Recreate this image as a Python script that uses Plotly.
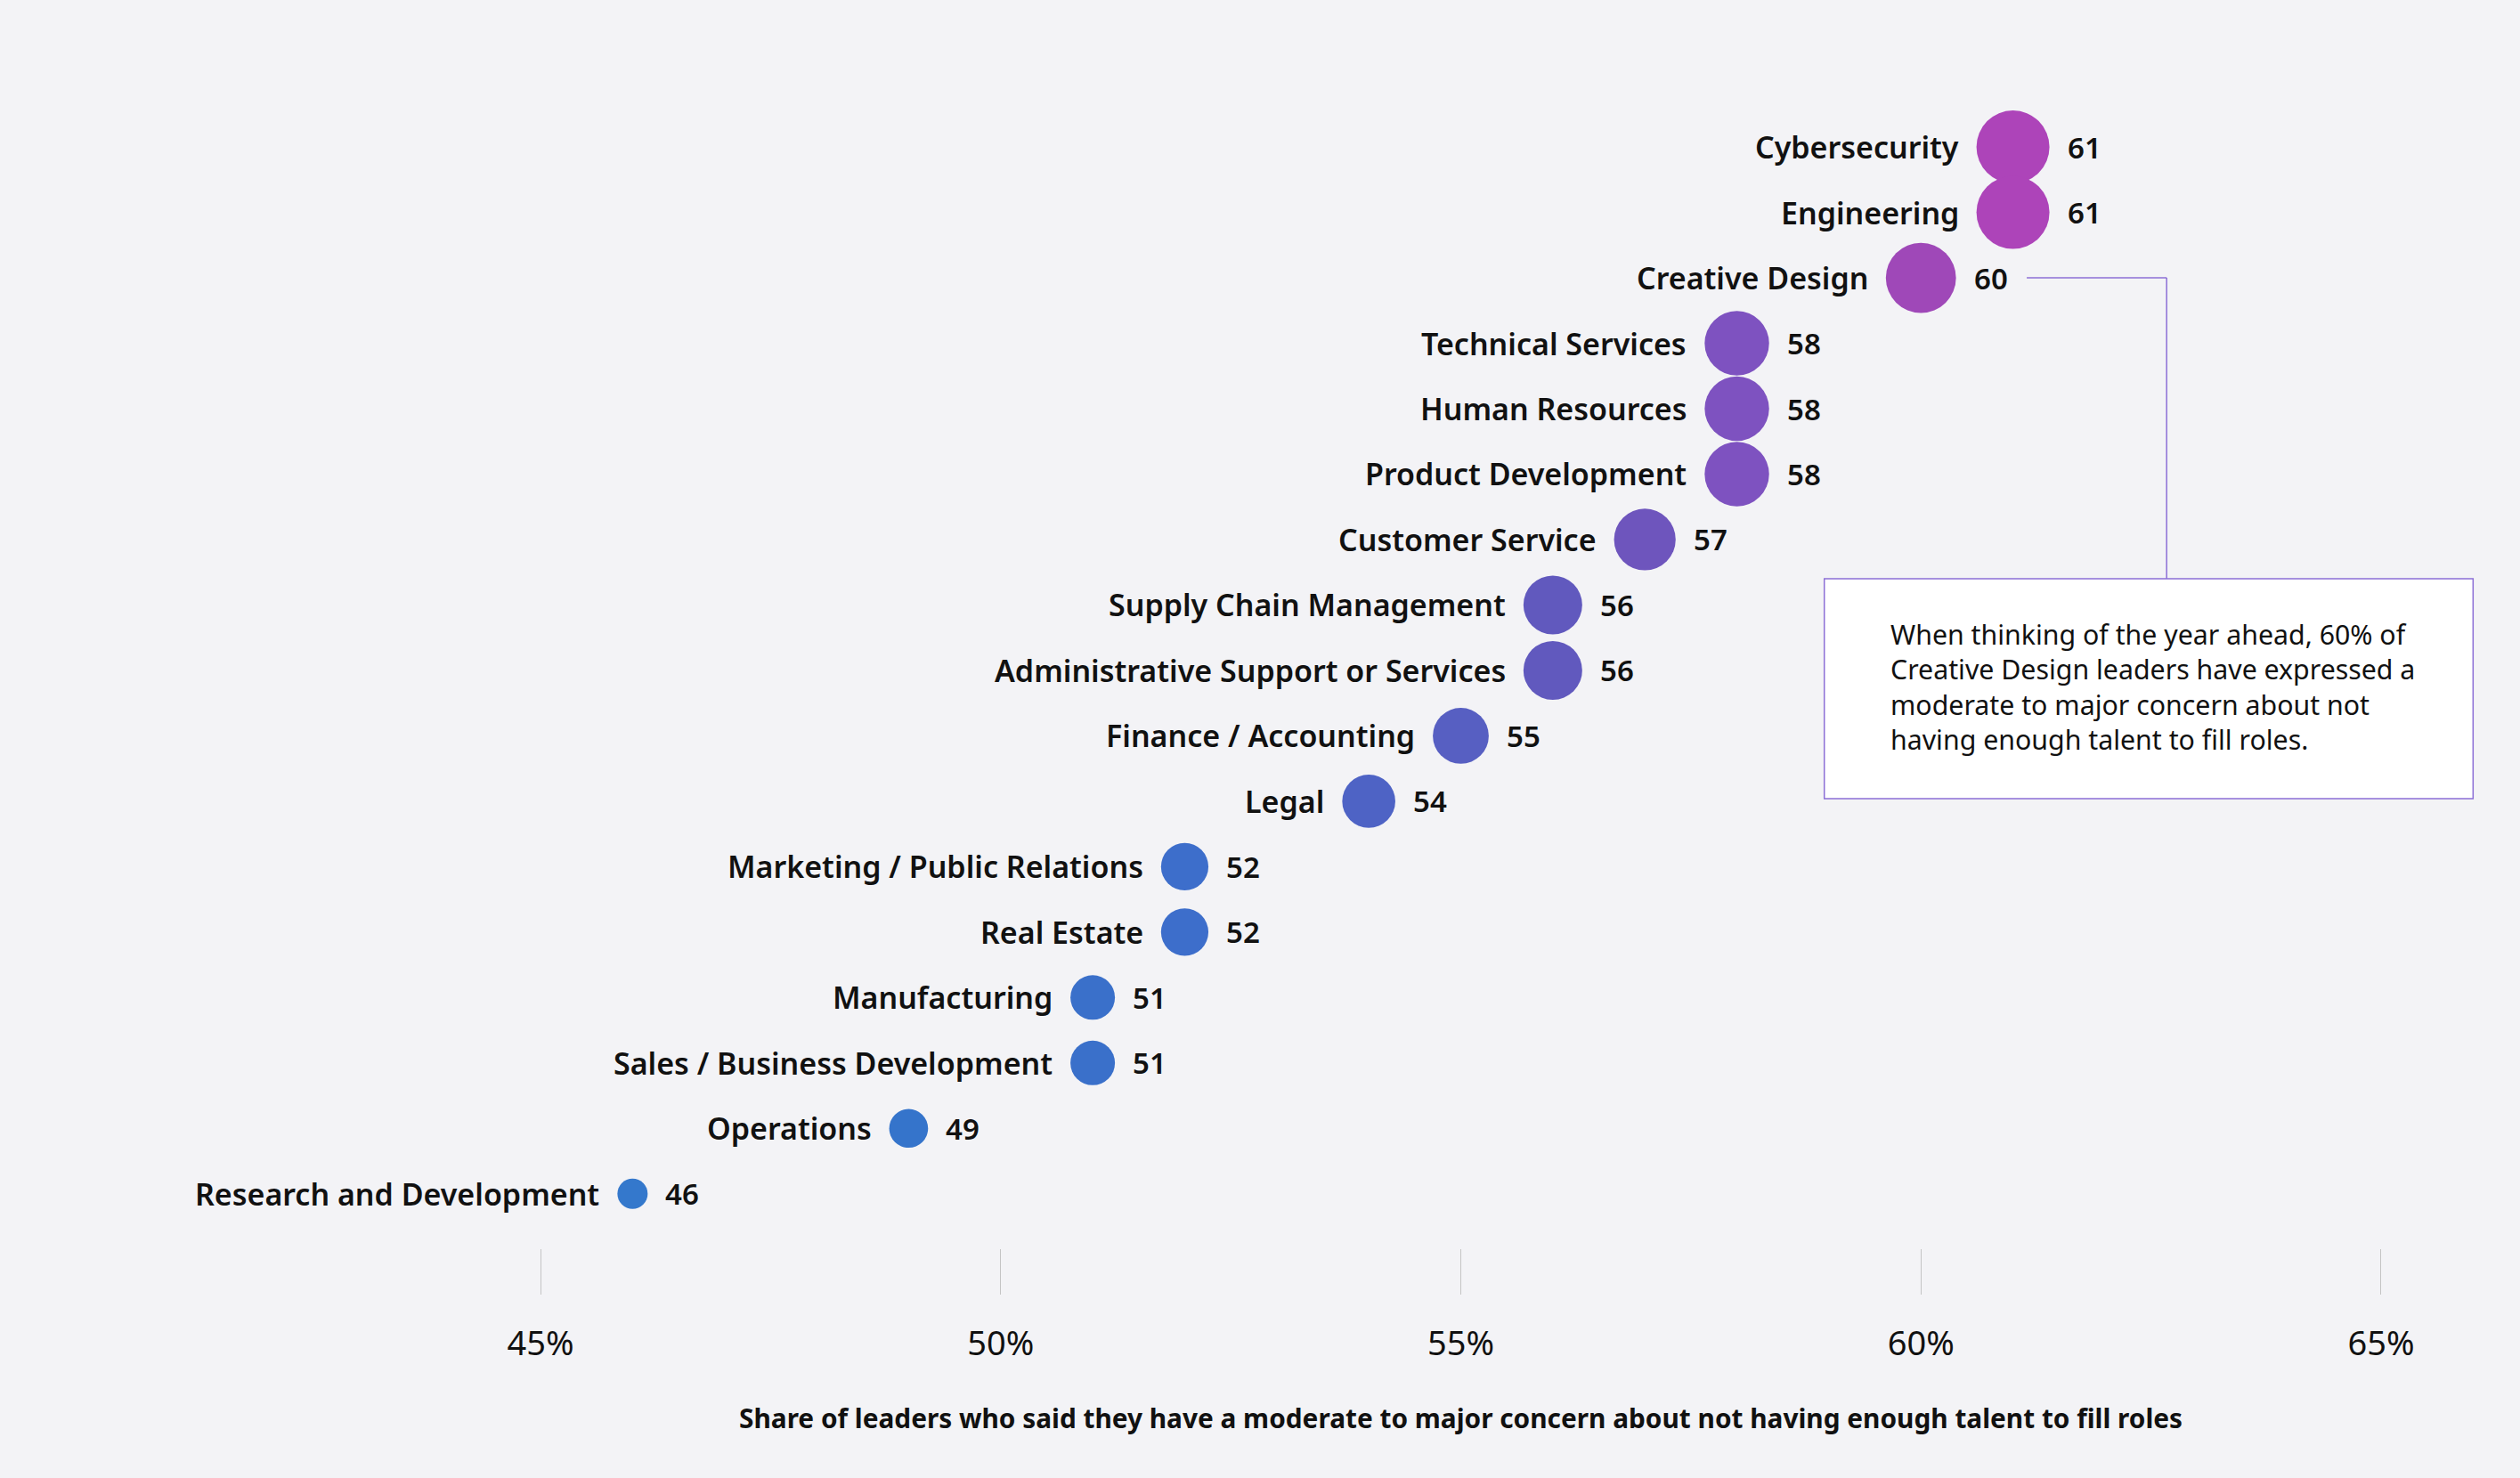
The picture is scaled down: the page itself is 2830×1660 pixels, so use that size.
import plotly.graph_objects as go

# ---- data (top to bottom as shown) ----
categories = [
    "Cybersecurity", "Engineering", "Creative Design", "Technical Services",
    "Human Resources", "Product Development", "Customer Service",
    "Supply Chain Management", "Administrative Support or Services",
    "Finance / Accounting", "Legal", "Marketing / Public Relations",
    "Real Estate", "Manufacturing", "Sales / Business Development",
    "Operations", "Research and Development",
]
values = [61, 61, 60, 58, 58, 58, 57, 56, 56, 55, 54, 52, 52, 51, 51, 49, 46]
tick_values = [45, 50, 55, 60, 65]
tick_labels = ["45%", "50%", "55%", "60%", "65%"]
axis_title = ("Share of leaders who said they have a moderate to major concern "
              "about not having enough talent to fill roles")
callout_category = "Creative Design"
callout_text = ("When thinking of the year ahead, 60% of<br>"
                "Creative Design leaders have expressed a<br>"
                "moderate to major concern about not<br>"
                "having enough talent to fill roles.")

# ---- styling ----
W, H = 2830, 1660
BG = "#F3F3F6"
FONT = "Noto Sans"
ACCENT = "#8C6FD6"
# colour stops expressed on the value scale 46..61
colorscale = [
    [0.0, "#3478CC"], [0.2, "#3574CB"], [0.333, "#3A70CA"], [0.4, "#3D6ECB"],
    [0.533, "#4E63C5"], [0.6, "#575FC2"], [0.667, "#6159BE"], [0.733, "#6E55BD"],
    [0.8, "#7E52C0"], [0.933, "#9F48B8"], [1.0, "#AD44B9"],
]

# bottom-to-top order for the category axis
order = categories[::-1]
vmin, vmax = min(values), max(values)
sizes = [34 + 3.2 * (v - vmin) for v in values]

fig = go.Figure()
fig.add_trace(go.Scatter(
    x=values, y=categories, mode="markers",
    marker=dict(size=sizes, color=values, colorscale=colorscale,
                cmin=vmin, cmax=vmax, line=dict(width=0), opacity=1),
    hoverinfo="skip", cliponaxis=False, showlegend=False,
))

annotations = []
for cat, v, s in zip(categories, values, sizes):
    annotations.append(dict(
        x=v, y=cat, xref="x", yref="y", text=cat, showarrow=False,
        xanchor="right", yanchor="middle", xshift=-(s / 2 + 18),
        font=dict(family=FONT, size=34, color="#111111", weight=600),
    ))
    annotations.append(dict(
        x=v, y=cat, xref="x", yref="y", text=str(v), showarrow=False,
        xanchor="left", yanchor="middle", xshift=(s / 2 + 18),
        font=dict(family=FONT, size=33, color="#111111", weight=600),
    ))

# axis title centred under the tick span
annotations.append(dict(
    x=sum(tick_values) / len(tick_values), y=-0.1416, xref="x", yref="paper",
    text="<b>" + axis_title + "</b>", showarrow=False,
    xanchor="center", yanchor="middle",
    font=dict(family=FONT, size=29.8, color="#111111"),
))

# callout text
annotations.append(dict(
    x=59.65, y=7.75, xref="x", yref="y", text=callout_text, showarrow=False,
    xanchor="left", yanchor="middle", align="left",
    font=dict(family=FONT, size=30.3, color="#111111"),
))

ci = order.index(callout_category)
shapes = [
    dict(type="line", xref="x", yref="y", x0=61.15, x1=62.67, y0=ci, y1=ci,
         line=dict(color=ACCENT, width=1.5)),
    dict(type="line", xref="x", yref="y", x0=62.67, x1=62.67, y0=ci, y1=9.40,
         line=dict(color=ACCENT, width=1.5)),
    dict(type="rect", xref="x", yref="y", x0=58.95, x1=66.0, y0=6.04, y1=9.40,
         fillcolor="white", line=dict(color=ACCENT, width=1.5), layer="below"),
]

fig.update_layout(
    width=W, height=H,
    paper_bgcolor=BG, plot_bgcolor=BG,
    margin=dict(l=100, r=50, t=60, b=258),
    annotations=annotations, shapes=shapes,
    showlegend=False,
    xaxis=dict(
        range=[40.094, 66.026], tickvals=tick_values, ticktext=tick_labels,
        showgrid=False, zeroline=False, showline=False,
        ticks="outside", ticklen=51, tickwidth=1, tickcolor="#C4C4C4",
        ticklabelstandoff=22,
        tickfont=dict(family=FONT, size=38, color="#111111"),
    ),
    yaxis=dict(
        type="category", categoryorder="array", categoryarray=order,
        range=[-0.833, 17.43], showgrid=False, zeroline=False,
        showline=False, showticklabels=False, ticks="",
    ),
)

fig.write_html("out.html")
